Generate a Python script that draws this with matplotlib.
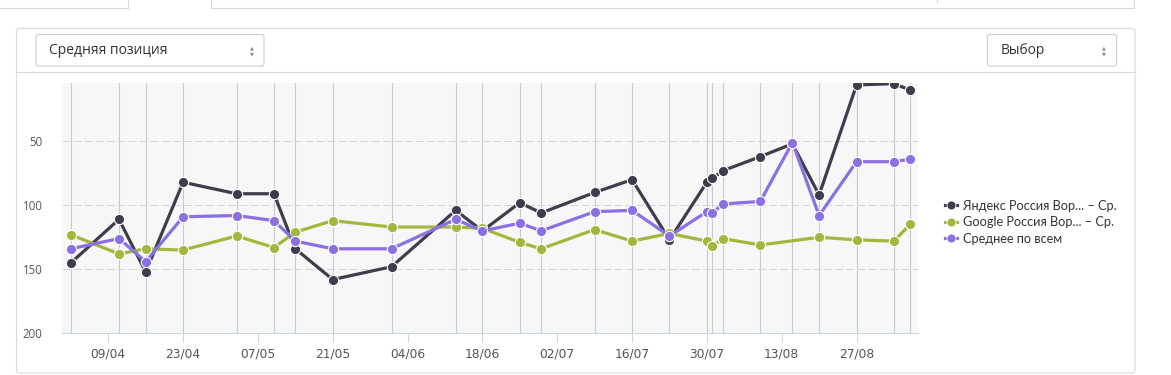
import matplotlib
matplotlib.use("Agg")
import matplotlib.pyplot as plt
import matplotlib.dates as mdates
from matplotlib.patches import FancyBboxPatch
from matplotlib.lines import Line2D
from datetime import datetime, timedelta

# ---- data ----
dates = ["02/04", "11/04", "16/04", "23/04", "03/05", "10/05", "14/05", "21/05",
         "01/06", "13/06", "18/06", "25/06", "29/06", "09/07", "16/07", "23/07",
         "30/07", "31/07", "02/08", "09/08", "15/08", "20/08", "27/08", "03/09", "06/09"]
yandex = [145, 111, 152, 82, 91, 91, 134, 158, 148, 104, 120, 98, 106, 90, 80, 127,
          82, 79, 73, 62, 52, 92, 6, 5, 10]
google = [123, 138, 134, 135, 124, 133, 121, 112, 117, 117, 118, 129, 134, 119, 128, 122,
          128, 132, 126, 131, None, 125, 127, 128, 115]
average = [134, 126, 144, 109, 108, 112, 128, 134, 134, 111, 120, 114, 120, 105, 104, 124,
           105, 106, 99, 97, 51, 108, 66, 66, 64]
series_names = ["Яндекс Россия Вор... – Ср.", "Google Россия Вор... – Ср.", "Среднее по всем"]
ytick_vals = [50, 100, 150, 200]

YEAR = 2018
x = [datetime.strptime(f"{d}/{YEAR}", "%d/%m/%Y") for d in dates]
gx = [xi for xi, v in zip(x, google) if v is not None]
gy = [v for v in google if v is not None]

C_DARK = "#3e3d4c"
C_GREEN = "#a1b83c"
C_PURPLE = "#8a70e2"
UI_BORDER = "#d9d9d9"

W, H = 1171, 375
fig = plt.figure(figsize=(W / 100, H / 100), dpi=100)

# ---- page chrome (pixel coords overlay) ----
ui = fig.add_axes([0, 0, 1, 1])
ui.set_xlim(0, W)
ui.set_ylim(H, 0)
ui.axis("off")

# cut-off tab strip at the very top
ui.plot([0, 128], [7.5, 7.5], color=UI_BORDER, lw=0.8)
ui.plot([128, 128], [0, 7.5], color=UI_BORDER, lw=0.8)
ui.plot([211, 211], [0, 7.5], color=UI_BORDER, lw=0.8)
ui.plot([211, 1134], [7.5, 7.5], color=UI_BORDER, lw=0.8)
ui.plot([937, 937], [0, 2], color="#cfcfcf", lw=0.8)
ui.plot([1134, 1134], [0, 7.5], color=UI_BORDER, lw=0.8)

# panel
ui.add_patch(FancyBboxPatch((16.5, 28.5), 1118.5, 344.5, boxstyle="round,pad=0,rounding_size=3",
                            fc="white", ec=UI_BORDER, lw=0.8))
ui.plot([16.5, 1135], [72, 72], color=UI_BORDER, lw=0.8)

# select boxes
for (bx, bw, label) in [(36, 228, "Средняя позиция"), (987.5, 129, "Выбор")]:
    ui.add_patch(FancyBboxPatch((bx, 34.5), bw, 31.5, boxstyle="round,pad=0,rounding_size=2.5",
                                fc="white", ec="#cccccc", lw=0.8))
    ui.text(bx + 13, 50.5, label, fontsize=10, color="#333333", va="center", ha="left",
            family=["Open Sans", "DejaVu Sans"])
    ui.text(bx + bw - 12.5, 47.5, "▲", fontsize=3.6, color="#888888", ha="center", va="center")
    ui.text(bx + bw - 12.5, 53.5, "▼", fontsize=3.6, color="#888888", ha="center", va="center")

# ---- chart ----
L, R, T, B = 62, 918, 83, 333.3
ax = fig.add_axes([L / W, 1 - B / H, (R - L) / W, (B - T) / H])
ax.set_facecolor("#f7f7f7")

ref = datetime(YEAR, 4, 9)
ax.set_xlim(ref - timedelta(days=8.66), ref + timedelta(days=151.5))
ax.set_ylim(200, 4.5)

for xi in x:
    ax.axvline(xi, color="#c4cad4", lw=0.8, zorder=1)
for yv in ytick_vals[:-1]:
    ax.axhline(yv, color="#d6d6d6", lw=0.75, ls=(0, (7.7, 2.9)), zorder=1)

mk = dict(marker="o", markersize=7.4, markeredgecolor="white", markeredgewidth=0.8,
          lw=2.3, solid_joinstyle="round")
l1, = ax.plot(x, yandex, color=C_DARK, zorder=3, **mk)
l2, = ax.plot(gx, gy, color=C_GREEN, zorder=4, **mk)
l3, = ax.plot(x, average, color=C_PURPLE, zorder=5, **mk)

for s in ["top", "right", "left"]:
    ax.spines[s].set_visible(False)
ax.spines["bottom"].set_color("#ccd6eb")
ax.spines["bottom"].set_linewidth(0.8)

ax.set_yticks(ytick_vals)
ax.set_yticklabels([str(v) for v in ytick_vals])
ax.tick_params(axis="y", length=0, pad=14, labelsize=8.3, labelcolor="#555555")
for t in ax.get_yticklabels():
    t.set_family(["Open Sans", "DejaVu Sans"])

ticks = [ref + timedelta(days=14 * i) for i in range(11)]
ax.set_xticks(ticks)
ax.xaxis.set_major_formatter(mdates.DateFormatter("%d/%m"))
ax.tick_params(axis="x", length=6.5, width=0.8, color="#ccd6eb", pad=4,
               labelsize=8.8, labelcolor="#555555")

# legend
handles = [Line2D([], [], color=c, marker="o", markersize=6.5, lw=2.3,
                  markeredgecolor="white", markeredgewidth=0.6)
           for c in (C_DARK, C_GREEN, C_PURPLE)]
leg = fig.legend(handles, series_names, loc="upper left",
                 bbox_to_anchor=(933 / W, 1 - 188 / H), frameon=False,
                 handlelength=1.0, handletextpad=0.45, labelspacing=0.36,
                 prop={"family": ["Lato", "DejaVu Sans"], "size": 9.2})
for t in leg.get_texts():
    t.set_color("#333333")

fig.savefig("out.png", dpi=100)
